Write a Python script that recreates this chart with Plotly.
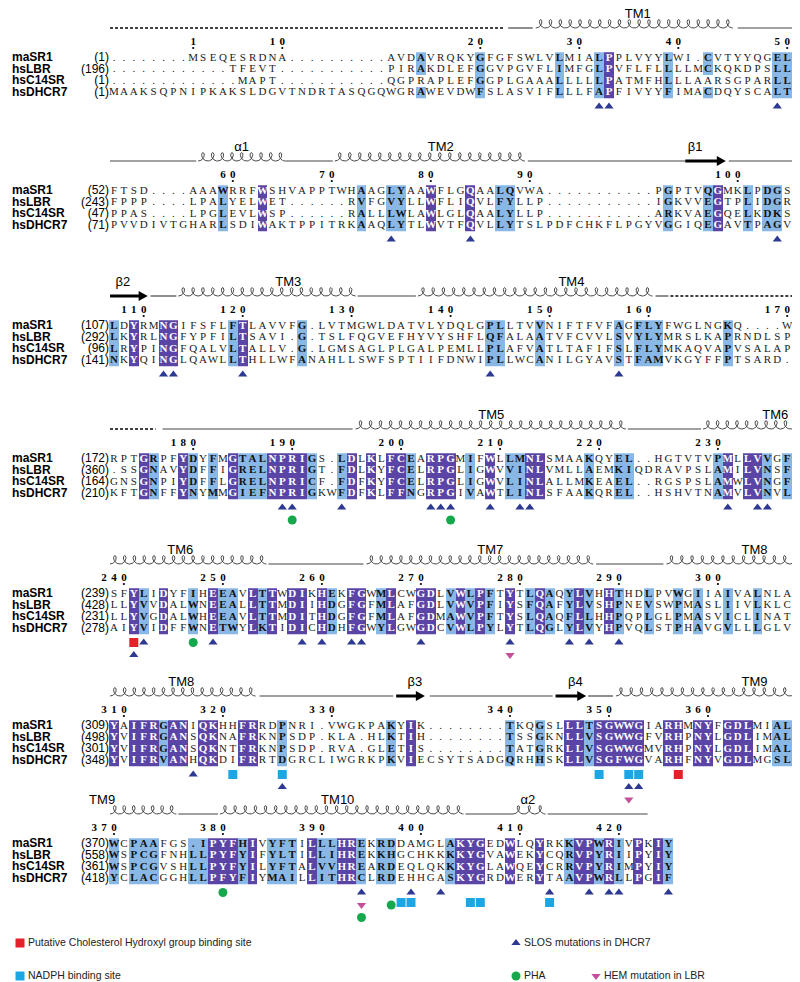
import math
import plotly.graph_objects as go

# ---------------------------------------------------------------- data
NAMES = ["maSR1", "hsLBR", "hsC14SR", "hsDHCR7"]

B1_START = [1, 196, 1, 1]
B1_SEQ = [
    "........MSEQESRDNA..........AV" + "DAVRQKYGFGFSWLVLMIALPPLVYYLWI.CVTYYQGELV",
    "............TFEVT...........PI" + "RAKDLEFGGVPGVFLIMFGLPVFLFLLLLMCKQKDPSLLN",
    ".............MAPT...........QG" + "PRAPLEFGGPLGAAALLLLLPATMFHLLLAARSGPARLLG",
    "MAAKSQPNIPKAKSLDGVTNDRTASQGQWG" + "RAWEVDWFSLASVIFLLLFAPFIVYYFIMACDQYSCALTG",
]
B1_PURPLE = [51]
B1_BLUE = [32, 38, 46, 50, 57, 61, 68, 69]
B1_NOBOX = [(32, 3), (61, 3)]
B1_SS = [("dash", 0.6, 40.5, "", 0), ("line", 40.8, 43.3, "", 0),
         ("helix", 43.6, 63.5, "TM1", 53.9), ("line", 64.0, 70.1, "", 0)]
B1_MARKS = [("slos", 50, 1), ("slos", 51, 1), ("slos", 68, 1)]

B2_START = [52, 243, 47, 71]
B2_SEQ = [
    "FTSD....AAAWRRFWSHVAPPTWHAAGLY" + "AAWFLGQAALQVWA" + "..........." + "PGPTVQGMKLPDGSR",
    "FPPP....LPALYELWET......RVFGVY" + "LLWFLIQVLFYLLP" + "..........." + "IGKVVEGTPLIDGRR",
    "PPAS....LPGLEVLWSP......RALLLW" + "LAWLGLQAALYLLP" + "..........." + "ARKVAEGQELKDKSR",
    "PVVDIVTGHARLSDIWAKTPPITRKAAQLY" + "TLWVTFQVLLYTSLPDFCHKFLPGYVGGIQEGAVTPAGVV",
]
B2_PURPLE = [16, 33, 37, 62]
B2_BLUE = [12, 26, 29, 30, 40, 41, 57, 61, 65, 67, 68, 70]
B2_NOBOX = []
B2_SS = [("line", 0.6, 9.3, "", 0), ("helix", 9.5, 18.3, "\u03b11", 13.9),
         ("line", 18.3, 23.1, "", 0), ("helix", 23.3, 42.5, "TM2", 34.0),
         ("line", 42.8, 58.7, "", 0), ("arrow", 58.7, 62.8, "\u03b21", 59.7),
         ("line", 63.1, 70.1, "", 0)]
B2_MARKS = [("slos", 29, 1), ("slos", 37, 1), ("slos", 68, 1)]

B3_START = [107, 292, 96, 141]
B3_SEQ = [
    "LDYRMNGIFSFLFTLAVVFG.LVTMGWLDA" + "TVLYDQLGPLLTVVNIFTFVFAGFLYFWGLNGKQ....WE",
    "LKYRLNGFYPFILTSAVI.G.TSLFQGVEF" + "HYVYSHFLQFALAATVFCVVLSVYLYMRSLKAPRNDLSPA",
    "LRYPINGFQALVLTALLV.G.LGMSAGLPL" + "GALPEMLLPLAFVATLTAFIFSLFLYMKAQVAPVSALAPG",
    "NKYQINGLQAWLLTHLLWFANAHLLSWFSP" + "TIIFDNWIPLLWCANILGYAVSTFAMVKGYFFPTSARD.C",
]
B3_PURPLE = [3, 6, 7, 14]
B3_BLUE = [1, 13, 20, 39, 40, 44, 52, 54, 55, 56, 63]
B3_NOBOX = []
B3_SS = [("arrow", 0.6, 4.4, "\u03b22", 1.9), ("line", 4.7, 7.3, "", 0),
         ("helix", 7.5, 25.4, "TM3", 18.6), ("line", 25.6, 31.5, "", 0),
         ("helix", 31.7, 55.4, "TM4", 47.2), ("line", 55.7, 57.0, "", 0),
         ("dash", 57.2, 70.1, "", 0)]
B3_MARKS = [("slos", 6, 1), ("slos", 7, 1), ("slos", 14, 1), ("slos", 39, 1), ("slos", 52, 1)]

B4_START = [172, 360, 164, 210]
B4_SEQ = [
    "RPTGRPFYDYFMGTALNPRIGS.LDLKLFC" + "EARPGMIFWLLMNLSMAAKQYEL..HGTVTVPMLLVVGFQ",
    ".SSGNAVYDFFIGRELNPRIGT.FDLKYFC" + "ELRPGLIGWVVINLVMLLAEMKIQDRAVPSLAMILVNSFQ",
    "GNSGNPIYDFFLGRELNPRICF.FDFKYFC" + "ELRPGLIGWVLINLALLMKEAEL..RGSPSLAMWLVNGFQ",
    "KFTGNFFYNYMMGIEFNPRIGKWFDFKLFF" + "NGRPGIVAWTLINLSFAAKQREL..HSHVTNAMVLVNVLQ",
]
B4_PURPLE = [4, 8, 13, 17, 18, 19, 20, 25, 27, 29, 30, 33, 34, 35, 39, 43, 44, 63, 65, 66, 70]
B4_BLUE = [5, 9, 11, 14, 15, 16, 21, 24, 31, 37, 41, 42, 49, 52, 53, 62, 67, 69]
B4_NOBOX = []
B4_SS = [("dash", 0.6, 5.2, "", 0), ("line", 5.9, 25.1, "", 0),
         ("helix", 25.4, 52.7, "TM5", 39.1), ("line", 52.9, 60.3, "", 0),
         ("helix", 60.5, 70.3, "TM6", 67.8)]
B4_MARKS = [("slos", c, 1) for c in (18, 19, 24, 33, 34, 35, 39, 42, 43, 63, 66, 67)] + \
           [("pha", 19, 2), ("pha", 35, 2)]

B5_START = [239, 428, 231, 278]
B5_SEQ = [
    "SFYLIDYFIHEEAVLTTWDIKHEKFGWMLC" + "WGDLVWLPFTYTLQAQYLVHHTHDLPVWGIIAIVALNLAG",
    "LLYVVDALWNEEALLTTMDIIHDGFGFMLA" + "FGDLVWVPFIYSFQAFYLVSHPNEVSWPMASLIIVLKLCG",
    "LLYVGDALWHEEAVLTTMDITHDGFGFMLA" + "FGDMAWVPFTYSLQAQFLLHHPQPLGLPMASVICLINATG",
    "AIYVIDFFWNETWYLKTIDICHDHFGWYLG" + "WGDCVWLPYLYTLQGLYLVYHPVQLSTPHAVGVLLLGLVG",
]
B5_PURPLE = [3, 6, 11, 15, 17, 19, 20, 22, 25, 26, 29, 32, 33, 36, 38, 41, 44, 48, 51, 70]
B5_BLUE = [4, 9, 12, 13, 16, 23, 28, 35, 37, 39, 43, 45, 47, 49, 52, 55, 58, 60, 63, 66]
B5_NOBOX = []
B5_SS = [("helix", 0.6, 16.4, "TM6", 7.7), ("line", 16.6, 26.2, "", 0),
         ("helix", 26.5, 49.4, "TM7", 39.0), ("line", 49.7, 56.5, "", 0),
         ("helix", 56.8, 70.3, "TM8", 65.7)]
B5_MARKS = [("chol", 3, 1), ("slos", 3, 2), ("pha", 9, 1), ("hem", 41, 2)] + \
           [("slos", c, 1) for c in (4, 11, 20, 22, 25, 26, 32, 41, 47, 49, 52, 70)]

B6_START = [309, 498, 301, 348]
B6_SEQ = [
    "YAIFRGANIQKHHFRRDPNRI.VWGKPAKY" + "IK........" + "TKQGSLLLTSGWWGIARHMNYFGDLMIALS",
    "YVIFRGANSQKNAFRKNPSDP.KLA.HLKT" + "IH........" + "TSSGKNLLVSGWWGFVRHPNYLGDLIMALA",
    "YVIFRGANSQKNTFRKNPSDP.RVA.GLET" + "IS........" + "TATGRKLLVSGWWGMVRHPNYLGDLIMALA",
    "YVIFRVANHQKDIFRRTDGRCLIWGRKPKV" + "IECSYTSADG" + "QRHHSKLLVSGFWGVARHFNYVGDLMGSLA",
]
B6_PURPLE = [1, 3, 4, 5, 7, 8, 10, 11, 14, 15, 31, 47, 48, 50, 51, 52, 53, 54, 57, 58,
             60, 61, 63, 64, 65, 70]
B6_BLUE = [6, 18, 29, 41, 44, 49, 68, 69]
B6_NOBOX = []
B6_SS = [("helix", 0.6, 15.3, "TM8", 7.8), ("line", 15.7, 29.2, "", 0),
         ("arrow", 29.5, 32.4, "\u03b23", 31.4), ("line", 32.9, 45.3, "", 0),
         ("arrow", 45.6, 48.7, "\u03b24", 47.6), ("line", 48.9, 51.4, "", 0),
         ("helix", 51.7, 70.3, "TM9", 65.7)]
B6_MARKS = [("slos", 9, 1), ("nadph", 13, 1), ("nadph", 18, 1), ("slos", 18, 2),
            ("nadph", 50, 1), ("nadph", 53, 1), ("nadph", 54, 1), ("chol", 58, 1),
            ("slos", 53, 2), ("slos", 54, 2), ("hem", 53, 3)]

B7_START = [370, 558, 361, 418]
B7_SEQ = [
    "WCPAAFGS.IPYFHIVYFTILLLHREKRDDAMGLAKYGEDWLQYRKKVPWRIVPKIY",
    "WSPCGFNHLLPYFYIFYLTILLIHREKKHGCHKKKKYGVAWEKYCQRVPYRIIPYIY",
    "WSPCGVSHLLPYFYILYFTALVVHREARDEQLQKKKYGLAWQEYCRRVPYRIMPYIY",
    "YCLACGGHLLPFYFIYMAILLITHRCLRDEHHGASKYGRDWERYTAAVPWRLLPGIF",
]
B7_PURPLE = [11, 12, 13, 15, 21, 24, 25, 36, 37, 38, 41, 44, 48, 49, 51, 54, 56]
B7_BLUE = [1, 3, 4, 5, 9, 10, 14, 17, 18, 19, 22, 23, 26, 28, 29, 35, 47, 50, 52, 57]
B7_NOBOX = []
B7_SS = [("helix", 0.6, 7.3, "TM9", -0.2), ("line", 7.5, 11.5, "", 0),
         ("helix", 11.7, 36.3, "TM10", 23.6), ("line", 36.5, 41.3, "", 0),
         ("helix", 41.3, 44.6, "\u03b12", 42.8), ("line", 44.8, 54.9, "", 0)]
B7_MARKS = [("pha", 12, 1), ("slos", 26, 1), ("hem", 26, 2), ("pha", 26, 3),
            ("pha", 29, 2), ("nadph", 30, 1.8), ("slos", 31, 1), ("nadph", 31, 1.8),
            ("slos", 34, 1), ("nadph", 37, 1.8), ("nadph", 38, 1.8),
            ("slos", 45, 1), ("nadph", 45, 1.8),
            ("slos", 49, 1), ("slos", 51, 1), ("slos", 52, 1), ("slos", 57, 1)]

LEGEND_ITEMS = [("chol", "Putative Cholesterol Hydroxyl group binding site"),
                ("nadph", "NADPH binding site"),
                ("slos", "SLOS mutations in DHCR7"),
                ("pha", "PHA"),
                ("hem", "HEM mutation in LBR")]

BLOCKS = [
    (B1_START, B1_SEQ, B1_PURPLE, B1_BLUE, B1_NOBOX, B1_SS, B1_MARKS),
    (B2_START, B2_SEQ, B2_PURPLE, B2_BLUE, B2_NOBOX, B2_SS, B2_MARKS),
    (B3_START, B3_SEQ, B3_PURPLE, B3_BLUE, B3_NOBOX, B3_SS, B3_MARKS),
    (B4_START, B4_SEQ, B4_PURPLE, B4_BLUE, B4_NOBOX, B4_SS, B4_MARKS),
    (B5_START, B5_SEQ, B5_PURPLE, B5_BLUE, B5_NOBOX, B5_SS, B5_MARKS),
    (B6_START, B6_SEQ, B6_PURPLE, B6_BLUE, B6_NOBOX, B6_SS, B6_MARKS),
    (B7_START, B7_SEQ, B7_PURPLE, B7_BLUE, B7_NOBOX, B7_SS, B7_MARKS),
]

# ---------------------------------------------------------------- layout / style
W, H = 800, 982
X0, PITCH = 106.0, 9.9
BLOCK_Y = [20, 153, 288, 421, 556, 688, 806]
ROW_OFF, ROW_DY = 30.0, 11.5
MARK_OFF, MARK_DY = 14.0, 12.5

PURPLE = "#5A45A6"
BLUE = "#8AB8E6"
SEQ_FONT = "Liberation Serif"
SEQ_SIZE = 11
SANS = "Liberation Sans"

MARK_STYLE = {
    "slos": dict(symbol="triangle-up", color="#2E3A92", size=8),
    "chol": dict(symbol="square", color="#E4202A", size=9),
    "nadph": dict(symbol="square", color="#1DA6E4", size=9),
    "pha": dict(symbol="circle", color="#16A84C", size=9),
    "hem": dict(symbol="triangle-down", color="#C4509C", size=8),
}


def cx(c):
    return X0 + (c - 1) * PITCH


fig = go.Figure()
shapes = []

txt = {k: ([], [], []) for k in ("norm", "bold", "white")}
ruler = ([], [], [])
rdots = ([], [])
names = ([], [], [])
nums = ([], [], [])
dash_xy = ([], [])
line_xy = ([], [])
coil_xy = ([], [])
ss_lab = ([], [], [])
marks = {k: ([], []) for k in MARK_STYLE}

for b, (start, seqs, purple, blue, nobox, ss, mk) in enumerate(BLOCKS):
    y0 = BLOCK_Y[b]
    n = len(seqs[0])
    for s in seqs:
        if len(s) != n:
            raise ValueError("block %d row length %d != %d: %s" % (b + 1, len(s), n, s))
    rows_y = [y0 + ROW_OFF + i * ROW_DY for i in range(4)]
    z = [[None] * n for _ in range(4)]
    for c in blue:
        for r in range(4):
            z[r][c - 1] = 1
    for c in purple:
        for r in range(4):
            z[r][c - 1] = 2
    for c, r in nobox:
        z[r - 1][c - 1] = None
    fig.add_trace(go.Heatmap(
        x=[cx(c) for c in range(1, n + 1)], y=rows_y, z=z, zmin=1, zmax=2,
        colorscale=[[0, BLUE], [0.5, BLUE], [0.5, PURPLE], [1, PURPLE]],
        showscale=False, hoverinfo="skip"))
    for r in range(4):
        for j, ch in enumerate(seqs[r]):
            kind = {None: "norm", 1: "bold", 2: "white"}[z[r][j]]
            t = txt[kind]
            t[0].append(cx(j + 1))
            t[1].append(rows_y[r])
            t[2].append(ch)
        names[0].append(4)
        names[1].append(rows_y[r])
        names[2].append(NAMES[r])
        nums[0].append(101)
        nums[1].append(rows_y[r])
        nums[2].append("(%d)" % start[r])
    # ruler from the numbering of the first sequence
    num = start[0]
    for j, ch in enumerate(seqs[0]):
        if ch == ".":
            continue
        if num == 1 or num % 10 == 0:
            s = str(num)
            for i, d in enumerate(s):
                ruler[0].append(cx(j + 1 - (len(s) - 1 - i)))
                ruler[1].append(y0 + 14)
                ruler[2].append(d)
            rdots[0].append(cx(j + 1))
            rdots[1].append(y0 + 20)
        num += 1
    # secondary structure
    for kind, c0, c1, lab, lc in ss:
        xa, xb = cx(c0), cx(c1)
        if kind == "dash":
            dash_xy[0].extend([xa, xb, None])
            dash_xy[1].extend([y0, y0, None])
        elif kind == "line":
            line_xy[0].extend([xa, xb, None])
            line_xy[1].extend([y0, y0, None])
        elif kind == "helix":
            loops = max(1, round((xb - xa) / 10.0))
            steps = loops * 32
            for k in range(steps + 1):
                tt = -math.pi + 2 * math.pi * loops * k / steps
                coil_xy[0].append(xa + (xb - xa) * k / steps - 3.4 * math.sin(tt))
                coil_xy[1].append(y0 - 4.2 - 4.2 * math.cos(tt))
            coil_xy[0].append(None)
            coil_xy[1].append(None)
        elif kind == "arrow":
            xh = xb - 9
            shapes.append(dict(
                type="path", xref="x", yref="y", line=dict(width=0), fillcolor="black",
                path="M %f,%f L %f,%f L %f,%f L %f,%f L %f,%f L %f,%f L %f,%f Z" % (
                    xa, y0 - 1.6, xh, y0 - 1.6, xh, y0 - 5, xb, y0, xh, y0 + 5,
                    xh, y0 + 1.6, xa, y0 + 1.6)))
        if lab:
            ss_lab[0].append(cx(lc))
            ss_lab[1].append(y0 - 13)
            ss_lab[2].append(lab)
    for kind, c, lev in mk:
        marks[kind][0].append(cx(c))
        marks[kind][1].append(rows_y[3] + MARK_OFF + (lev - 1) * MARK_DY)

# legend
leg_pos = [(12, 935), (12, 968), (508, 935), (508, 968), (588, 968)]
leg_txt = ([], [], [])
for (kind, label), (lx, ly) in zip(LEGEND_ITEMS, leg_pos):
    marks[kind][0].append(lx)
    marks[kind][1].append(ly)
    leg_txt[0].append(lx + 8)
    leg_txt[1].append(ly)
    leg_txt[2].append(label)

fig.add_trace(go.Scatter(x=dash_xy[0], y=dash_xy[1], mode="lines",
                         line=dict(color="black", width=1.6, dash="3px,2px"), hoverinfo="skip"))
fig.add_trace(go.Scatter(x=line_xy[0], y=line_xy[1], mode="lines",
                         line=dict(color="#444444", width=1.2), hoverinfo="skip"))
fig.add_trace(go.Scatter(x=coil_xy[0], y=coil_xy[1], mode="lines",
                         line=dict(color="#333333", width=0.9), hoverinfo="skip"))

fig.add_trace(go.Scatter(x=txt["norm"][0], y=txt["norm"][1], text=txt["norm"][2], mode="text",
                         textfont=dict(family=SEQ_FONT, size=SEQ_SIZE, color="#222222"),
                         hoverinfo="skip"))
fig.add_trace(go.Scatter(x=txt["bold"][0], y=txt["bold"][1], text=txt["bold"][2], mode="text",
                         textfont=dict(family=SEQ_FONT, size=SEQ_SIZE, color="#111111", weight="bold"),
                         hoverinfo="skip"))
fig.add_trace(go.Scatter(x=txt["white"][0], y=txt["white"][1], text=txt["white"][2], mode="text",
                         textfont=dict(family=SEQ_FONT, size=SEQ_SIZE, color="white", weight="bold"),
                         hoverinfo="skip"))
fig.add_trace(go.Scatter(x=ruler[0], y=ruler[1], text=ruler[2], mode="text",
                         textfont=dict(family=SEQ_FONT, size=11, color="black", weight="bold"),
                         hoverinfo="skip"))
fig.add_trace(go.Scatter(x=rdots[0], y=rdots[1], mode="markers",
                         marker=dict(size=2.2, color="black"), hoverinfo="skip"))
fig.add_trace(go.Scatter(x=names[0], y=names[1], text=names[2], mode="text",
                         textposition="middle right",
                         textfont=dict(family=SANS, size=12, color="black", weight="bold"),
                         hoverinfo="skip"))
fig.add_trace(go.Scatter(x=nums[0], y=nums[1], text=nums[2], mode="text",
                         textposition="middle left",
                         textfont=dict(family=SANS, size=12, color="black"),
                         hoverinfo="skip"))
fig.add_trace(go.Scatter(x=ss_lab[0], y=ss_lab[1], text=ss_lab[2], mode="text",
                         textfont=dict(family=SANS, size=13, color="black"),
                         hoverinfo="skip"))
for kind, st in MARK_STYLE.items():
    fig.add_trace(go.Scatter(x=marks[kind][0], y=marks[kind][1], mode="markers",
                             marker=dict(symbol=st["symbol"], color=st["color"], size=st["size"],
                                         line=dict(width=0)),
                             hoverinfo="skip"))
fig.add_trace(go.Scatter(x=leg_txt[0], y=leg_txt[1], text=leg_txt[2], mode="text",
                         textposition="middle right",
                         textfont=dict(family=SANS, size=10.5, color="#222222"),
                         hoverinfo="skip"))

fig.update_layout(
    width=W, height=H, margin=dict(l=0, r=0, t=0, b=0),
    paper_bgcolor="white", plot_bgcolor="white", showlegend=False,
    xaxis=dict(range=[0, W], visible=False, fixedrange=True),
    yaxis=dict(range=[H, 0], visible=False, fixedrange=True),
    shapes=shapes,
)
fig.write_html("out.html")
